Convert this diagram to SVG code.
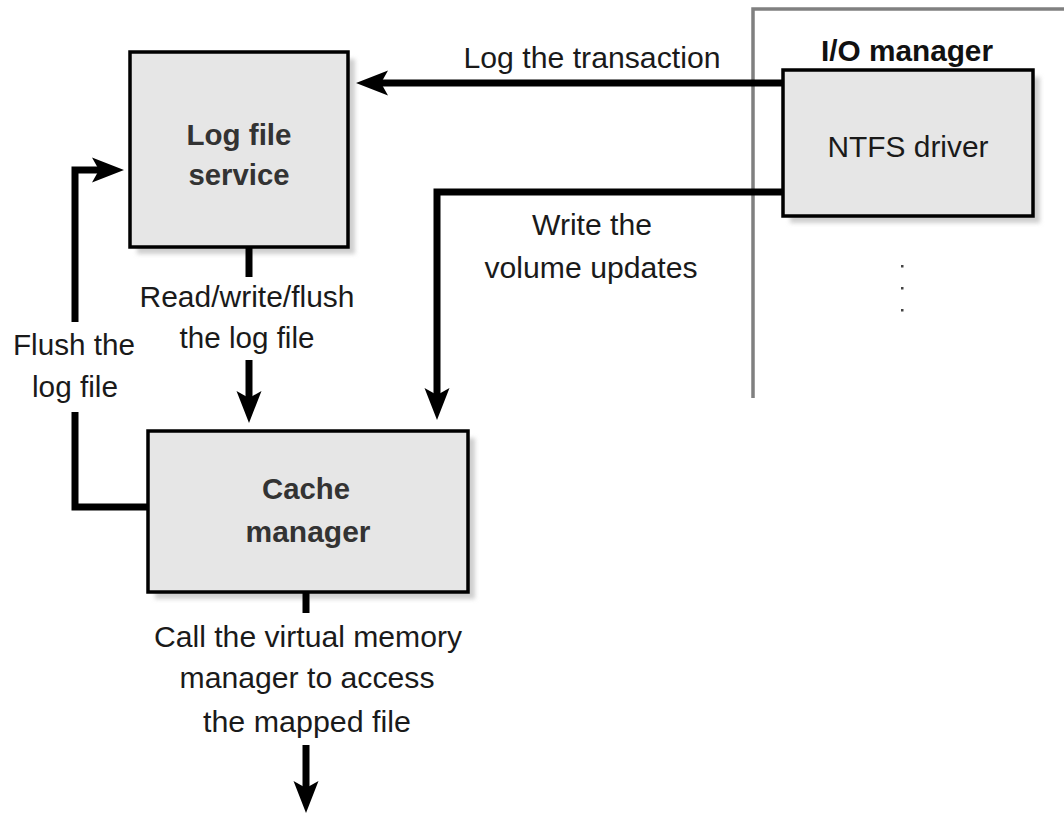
<svg xmlns="http://www.w3.org/2000/svg" width="1064" height="814" viewBox="0 0 1064 814">
<defs>
<style>
.box{fill:#e6e6e6;stroke:#000;stroke-width:3.5}
.shadow{fill:#cfcfcf;filter:url(#blur)}
.t{font-family:"Liberation Sans",Arial,sans-serif;font-size:30px;fill:#1a1a1a;text-anchor:middle}
.b{font-weight:bold;fill:#333}
.conn{fill:none;stroke:#000;stroke-width:7;stroke-linejoin:miter}
.frame{fill:none;stroke:#808080;stroke-width:3.5}
</style>
<filter id="blur" x="-10%" y="-10%" width="120%" height="120%"><feGaussianBlur stdDeviation="2"/></filter>
<marker id="ah" markerUnits="userSpaceOnUse" markerWidth="34" markerHeight="26" refX="7" refY="12.5" orient="auto" overflow="visible">
<path d="M0,0 L32,12.5 L0,25 L7,12.5 Z" fill="#000"/>
</marker>
</defs>
<rect width="1064" height="814" fill="#fff"/>

<g id="io-frame">
<path class="frame" d="M753,398 V9 H1064"/>
<text class="t b" x="907" y="61" textLength="172" lengthAdjust="spacingAndGlyphs" style="fill:#111">I/O manager</text>
<g fill="#444"><rect x="901" y="265" width="2.5" height="2.5"/><rect x="901" y="287" width="2.5" height="2.5"/><rect x="901" y="309" width="2.5" height="2.5"/></g>
</g>

<g id="log-file-service">
<rect class="shadow" x="137" y="59" width="218" height="195"/>
<rect class="box" x="130" y="52" width="218" height="195"/>
<text class="t b" x="239" y="145" textLength="105" lengthAdjust="spacingAndGlyphs">Log file</text>
<text class="t b" x="239" y="185" textLength="101" lengthAdjust="spacingAndGlyphs">service</text>
</g>

<g id="ntfs-driver">
<rect class="shadow" x="790" y="77" width="250" height="146"/>
<rect class="box" x="783" y="70" width="250" height="146"/>
<text class="t" x="908" y="157" textLength="161" lengthAdjust="spacingAndGlyphs">NTFS driver</text>
</g>

<g id="cache-manager">
<rect class="shadow" x="155" y="438" width="320" height="161"/>
<rect class="box" x="148" y="431" width="320" height="161"/>
<text class="t b" x="306" y="499" textLength="88" lengthAdjust="spacingAndGlyphs">Cache</text>
<text class="t b" x="308" y="542" textLength="125" lengthAdjust="spacingAndGlyphs">manager</text>
</g>

<g id="connectors">
<path class="conn" d="M783,83 H381" marker-end="url(#ah)"/>
<path class="conn" d="M783,192 H437 V395" marker-end="url(#ah)"/>
<path class="conn" d="M249,247 V277"/>
<path class="conn" d="M249,360 V398" marker-end="url(#ah)"/>
<path class="conn" d="M148,507 H75 V412"/>
<path class="conn" d="M75,322 V170 H99" marker-end="url(#ah)"/>
<path class="conn" d="M306,592 V613"/>
<path class="conn" d="M306,745 V788" marker-end="url(#ah)"/>
</g>

<g id="labels">
<text class="t" x="592" y="68" textLength="257" lengthAdjust="spacingAndGlyphs">Log the transaction</text>
<text class="t" x="592" y="235" textLength="120" lengthAdjust="spacingAndGlyphs">Write the</text>
<text class="t" x="591" y="278" textLength="213" lengthAdjust="spacingAndGlyphs">volume updates</text>
<text class="t" x="247" y="307" textLength="215" lengthAdjust="spacingAndGlyphs">Read/write/flush</text>
<text class="t" x="247" y="348" textLength="135" lengthAdjust="spacingAndGlyphs">the log file</text>
<text class="t" x="74" y="355" textLength="122" lengthAdjust="spacingAndGlyphs">Flush the</text>
<text class="t" x="75" y="397" textLength="86" lengthAdjust="spacingAndGlyphs">log file</text>
<text class="t" x="308" y="647" textLength="308" lengthAdjust="spacingAndGlyphs">Call the virtual memory</text>
<text class="t" x="307" y="688" textLength="255" lengthAdjust="spacingAndGlyphs">manager to access</text>
<text class="t" x="307" y="732" textLength="208" lengthAdjust="spacingAndGlyphs">the mapped file</text>
</g>
</svg>
